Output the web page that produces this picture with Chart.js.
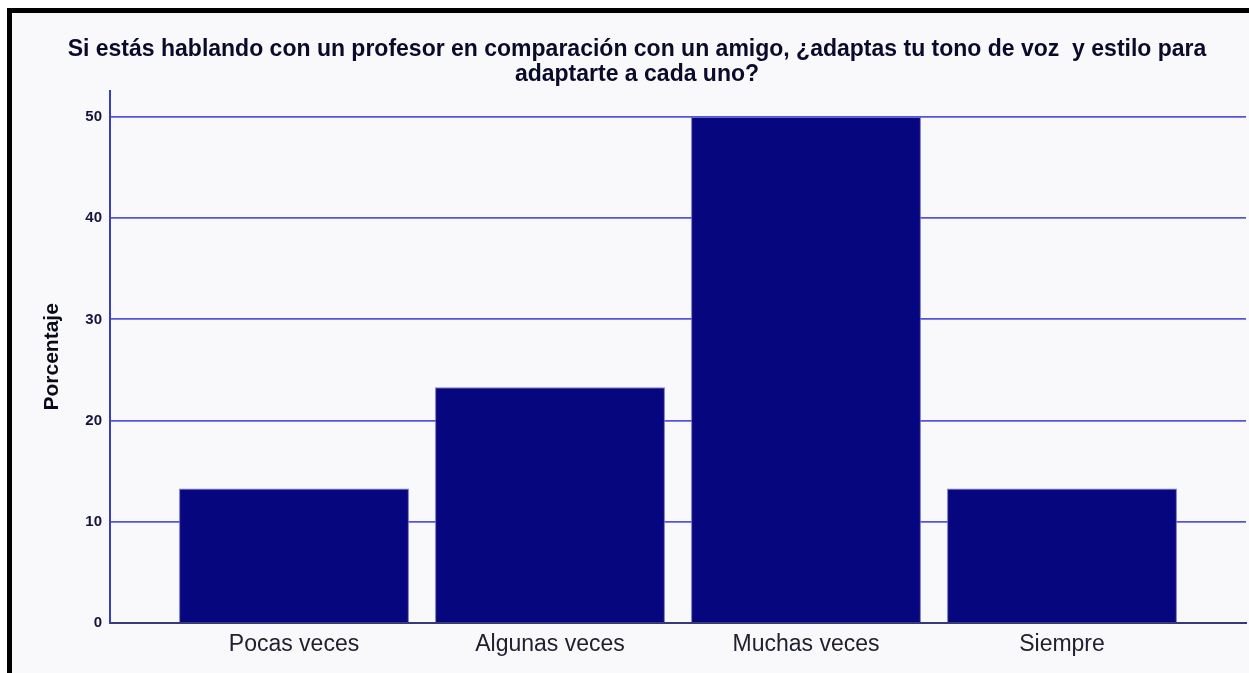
<!DOCTYPE html>
<html>
<head>
<meta charset="utf-8">
<script src="https://cdn.jsdelivr.net/npm/chart.js@4.4.1/dist/chart.umd.min.js"></script>
<style>
  html, body { margin: 0; padding: 0; background: #ffffff; }
  #frame {
    position: absolute; left: 7px; top: 8px; width: 1242px; height: 665px;
    border-left: 5px solid #000; border-top: 5px solid #000; background: #f9f9fc;
  }
  #chart { position: absolute; left: 0; top: 0; }
</style>
</head>
<body>
<div id="frame"></div>
<canvas id="chart" width="1249" height="673"></canvas>
<script>
// Survey answer bar chart - percentages per category

const categories = ["Pocas veces", "Algunas veces", "Muchas veces", "Siempre"];
const percentages = [13.3, 23.3, 50.0, 13.3];
const yTicks = [0, 10, 20, 30, 40, 50];
const titleLines = [
  "Si estás hablando con un profesor en comparación con un amigo, ¿adaptas tu tono de voz  y estilo para",
  "adaptarte a cada uno?",
];
const yTitle = "Porcentaje";

document.addEventListener("DOMContentLoaded", () => {
  const ctx = document.getElementById("chart");

  new Chart(ctx, {
    type: "bar",
    data: {
      datasets: [
        {
          data: percentages.map((v, i) => ({ x: i, y: v })),
          backgroundColor: "#06067e",
          borderColor: "rgba(96, 96, 214, 0.85)",
          borderWidth: 1,
          barPercentage: 0.898,
          categoryPercentage: 1,
        },
      ],
    },
    options: {
      responsive: false,
      animation: false,
      layout: { padding: { left: 28, right: 3, top: 0, bottom: 0 } },
      plugins: {
        legend: { display: false },
        tooltip: { enabled: false },
        title: {
          display: true,
          text: titleLines,
          color: "#0a0a2a",
          font: { family: "'Liberation Sans', Arial, sans-serif", size: 23, weight: "bold", lineHeight: 1.08 },
          padding: { top: 37, bottom: 4 },
        },
      },
      scales: {
        x: {
          type: "linear",
          offset: false,
          min: -0.71875,
          max: 3.71875,
          afterBuildTicks: (scale) => {
            scale.ticks = categories.map((c, i) => ({ value: i }));
          },
          afterFit: (scale) => {
            scale.height = 50;
          },
          grid: { display: false, drawTicks: false, offset: false },
          border: { display: true, color: "#3a3a78", width: 2 },
          ticks: {
            autoSkip: false,
            maxRotation: 0,
            padding: 8,
            color: "#202030",
            font: { family: "'Liberation Sans', Arial, sans-serif", size: 23 },
            callback: (value) => categories[value],
          },
        },
        y: {
          min: 0,
          max: 52.6,
          afterBuildTicks: (scale) => {
            scale.ticks = yTicks.map((v) => ({ value: v }));
          },
          afterFit: (scale) => {
            scale.width = 82;
          },
          grid: {
            drawTicks: false,
            lineWidth: 1.8,
            color: (c) => (c.tick && c.tick.value === 0 ? "#3a3a78" : "#5454dc"),
          },
          border: { display: true, color: "#3c3cc0", width: 2 },
          ticks: {
            padding: 8,
            color: "#15153f",
            font: { family: "'Liberation Sans', Arial, sans-serif", size: 15, weight: "bold" },
          },
          title: {
            display: true,
            text: yTitle,
            color: "#0a0a1a",
            padding: { top: 12, bottom: 0 },
            font: { family: "'Liberation Sans', Arial, sans-serif", size: 21, weight: "bold", lineHeight: 1.2 },
          },
        },
      },
    },
  });
});
</script>
</body>
</html>
